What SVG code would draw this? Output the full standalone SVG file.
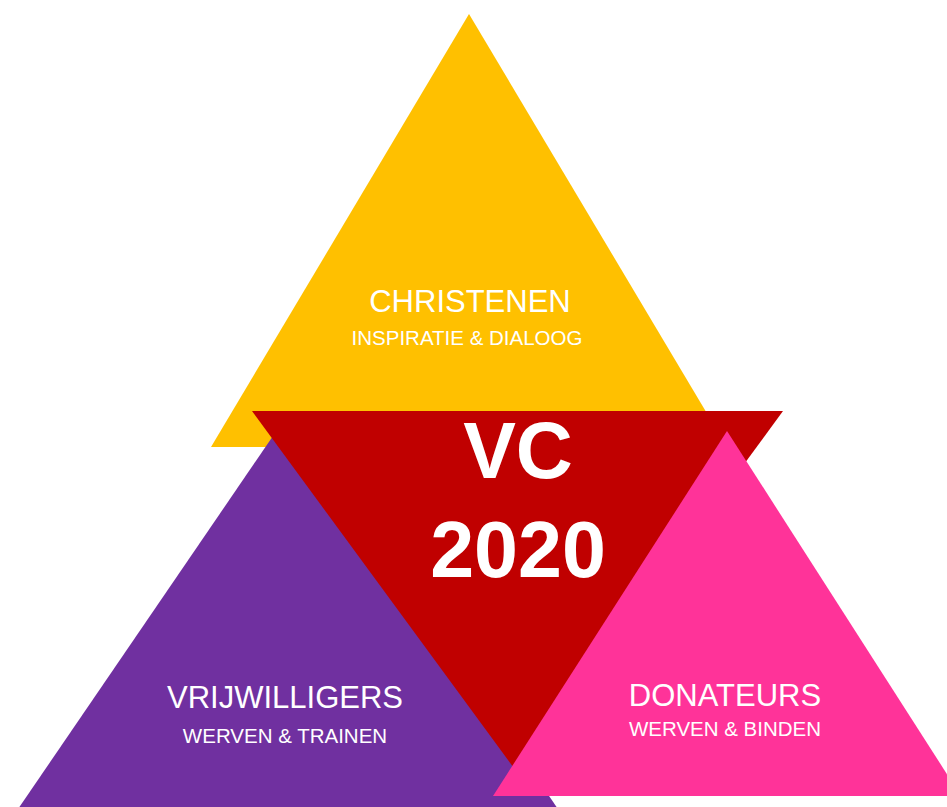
<svg xmlns="http://www.w3.org/2000/svg" width="947" height="807" viewBox="0 0 947 807">
<style>
.t{font-family:"Liberation Sans",Arial,sans-serif;fill:#fff;text-anchor:middle}
.h{font-size:31px}
.s{font-size:20.5px}
.b{font-size:79px;font-weight:bold}
</style>
<rect width="947" height="807" fill="#fff"/>
<g id="christenen">
<polygon points="469,14 727,447 211,447" fill="#FFC000"/>
<text class="t h" x="470" y="312">CHRISTENEN</text>
<text class="t s" x="467" y="345">INSPIRATIE &amp; DIALOOG</text>
</g>
<g id="vrijwilligers">
<polygon points="288,414 560,812 16,812" fill="#7030A0"/>
<text class="t h" x="285" y="708">VRIJWILLIGERS</text>
<text class="t s" x="285" y="743">WERVEN &amp; TRAINEN</text>
</g>
<g id="vc2020">
<polygon points="252,411 783,411 517.5,773" fill="#C00000"/>
<text class="t b" x="518" y="478">VC</text>
<text class="t b" x="518" y="577">2020</text>
</g>
<g id="donateurs">
<polygon points="727,431 961,796 493,796" fill="#FF3399"/>
<text class="t h" x="725" y="706">DONATEURS</text>
<text class="t s" x="725" y="736">WERVEN &amp; BINDEN</text>
</g>
<g id="connectors"/>
</svg>
